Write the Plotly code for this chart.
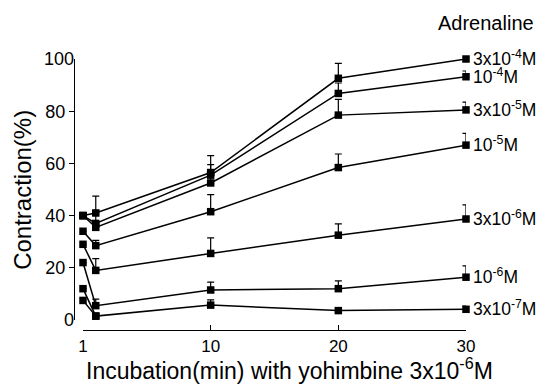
import plotly.graph_objects as go

# ---- data ----
time_pos = [0, 1, 10, 20, 30]
tick_vals = [0, 10, 20, 30]
tick_text = ["1", "10", "20", "30"]

series_names = ["3x10<sup>-4</sup>M", "10<sup>-4</sup>M", "3x10<sup>-5</sup>M", "10<sup>-5</sup>M",
                "3x10<sup>-6</sup>M", "10<sup>-6</sup>M", "3x10<sup>-7</sup>M"]
adr_3e4 = [40, 41, 56.5, 92.6, 100]
adr_1e4 = [40, 37, 55.5, 86.8, 93.2]
adr_3e5 = [40, 35.5, 52.5, 78.5, 80.5]
adr_1e5 = [34, 28.5, 41.5, 58.4, 67]
adr_3e6 = [29, 19, 25.5, 32.5, 38.7]
adr_1e6 = [22, 5.5, 11.5, 12, 16.4]
adr_3e7 = [12, 1.5, 5.7, 3.6, 4.1]
extra_pts = [7.5, 1.5]

err_3e4 = [0, 6.5, 6.5, 5.7, 0.5]
err_1e4 = [0, 5, 4, 4, 2.2]
err_3e5 = [0, 2, 3, 6, 3]
err_1e5 = [0, 2, 6.5, 5.2, 4.5]
err_3e6 = [0, 4.5, 6, 4.3, 5.4]
err_1e6 = [0, 2.5, 3, 3, 4.3]
err_3e7 = [0, 0.5, 2, 0.3, 1.2]

values = [adr_3e4, adr_1e4, adr_3e5, adr_1e5, adr_3e6, adr_1e6, adr_3e7]
errors = [err_3e4, err_1e4, err_3e5, err_1e5, err_3e6, err_1e6, err_3e7]

FONT = "Liberation Sans, Arial, Helvetica, sans-serif"
PLOT_H = 384 - 59 - 54

fig = go.Figure()
for name, vals, errs in zip(series_names, values, errors):
    fig.add_trace(go.Scatter(
        x=time_pos, y=vals, mode="lines+markers", name=name,
        line=dict(color="black", width=1.5),
        marker=dict(symbol="square", size=7.5, color="black"),
        error_y=dict(type="data", array=errs, arrayminus=[0] * len(errs), symmetric=False,
                     color="black", thickness=1.2, width=3.5),
        cliponaxis=False, showlegend=False))

fig.add_trace(go.Scatter(
    x=time_pos[:2], y=extra_pts, mode="lines+markers",
    line=dict(color="black", width=1.5),
    marker=dict(symbol="square", size=7.5, color="black"),
    cliponaxis=False, showlegend=False))

# invisible trace on overlay axis for 0/100 end ticks
fig.add_trace(go.Scatter(x=[15], y=[50], yaxis="y2", mode="markers",
                         marker=dict(opacity=0), showlegend=False, hoverinfo="skip"))

for name, vals in zip(series_names, values):
    fig.add_annotation(x=time_pos[-1], y=vals[-1], xref="x", yref="y", text=name,
                       showarrow=False, xanchor="left", yanchor="middle", xshift=5, yshift=1,
                       font=dict(family=FONT, size=17.5, color="black"))

fig.add_annotation(x=1.051, y=1 + (59 - 23) / PLOT_H, xref="paper", yref="paper", text="Adrenaline",
                   showarrow=False, xanchor="center", yanchor="middle",
                   font=dict(family=FONT, size=20, color="black"))
fig.add_annotation(x=0.551, y=-(369 - 330) / PLOT_H, xref="paper", yref="paper",
                   text="Incubation(min) with yohimbine 3x10<sup>-6</sup>M",
                   showarrow=False, xanchor="center", yanchor="middle",
                   font=dict(family=FONT, size=23, color="black"))
fig.add_annotation(x=-0.133, y=(330 - 190) / PLOT_H, xref="paper", yref="paper", text="Contraction(%)",
                   textangle=-90, showarrow=False, xanchor="center", yanchor="middle",
                   font=dict(family=FONT, size=24, color="black"))

fig.update_layout(
    width=552, height=384,
    margin=dict(l=74, r=86, t=59, b=54),
    paper_bgcolor="white", plot_bgcolor="white",
    font=dict(family=FONT, size=18, color="black"),
    xaxis=dict(domain=[9 / 392, 1], range=[0, 30], tickvals=tick_vals, ticktext=tick_text,
               ticks="inside", ticklen=5, tickwidth=1.2, tickcolor="black",
               showline=True, linecolor="black", linewidth=1.3, showgrid=False, zeroline=False,
               anchor="free", position=0, tickfont=dict(size=17)),
    yaxis=dict(domain=[10 / PLOT_H, 1], range=[0, 100], tickvals=[20, 40, 60, 80],
               ticks="outside", ticklen=5, tickwidth=1.2, tickcolor="black",
               showline=True, linecolor="black", linewidth=1.3, showgrid=False, zeroline=False,
               anchor="free", position=0, tickfont=dict(size=18)),
    yaxis2=dict(domain=[10 / PLOT_H, 1], range=[0, 100], tickvals=[0, 100], overlaying="y",
                side="left", anchor="free", position=0,
                ticks="inside", ticklen=5, tickwidth=1.2, tickcolor="black",
                showline=False, showgrid=False, zeroline=False, tickfont=dict(size=18)),
)

fig.write_html("out.html")
